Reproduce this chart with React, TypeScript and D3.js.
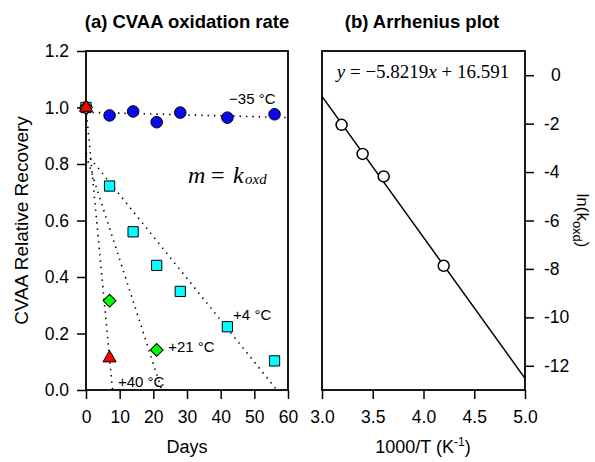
import React, { useEffect, useRef } from 'react'
import * as d3 from 'd3'

// (a) CVAA oxidation rate, relative recovery vs days
const days = [0, 7, 14, 21, 28, 42, 56]
const recoveryM35 = [1.0, 0.972, 0.986, 0.948, 0.982, 0.964, 0.976]
const recoveryP4 = [1.0, 0.722, 0.56, 0.441, 0.349, 0.224, 0.103]
const daysP21 = [0, 7, 21]
const recoveryP21 = [1.0, 0.316, 0.142]
const daysP40 = [0, 7]
const recoveryP40 = [1.0, 0.113]

// linear fits drawn as dotted lines (-35, +4, +21, +40 °C)
const fitIntercepts = [0.983, 0.839, 0.831, 1.0]
const fitSlopes = [-0.00031, -0.0148, -0.0369, -0.1268]
const tempLabels = ['\u221235 \u00b0C', '+4 \u00b0C', '+21 \u00b0C', '+40 \u00b0C']

// (b) Arrhenius plot
const invTemp = [3.193, 3.4, 3.608, 4.199]
const lnK = [-2.05, -3.25, -4.18, -7.87]
const arrSlope = -5.8219
const arrIntercept = 16.591

const dayTicks = [0, 10, 20, 30, 40, 50, 60]
const recTicks = [0, 0.2, 0.4, 0.6, 0.8, 1.0, 1.2]
const invTTicks = [3.0, 3.5, 4.0, 4.5, 5.0]
const lnKTicks = [0, -2, -4, -6, -8, -10, -12]

const SANS = '"Liberation Sans", Arial, Helvetica, sans-serif'
const SERIF = '"Liberation Serif", "Times New Roman", serif'

function styleAxis(g: any) {
    g.select('.domain').remove()
    g.selectAll('.tick line').attr('stroke', '#000').attr('stroke-width', 1.5)
    g.selectAll('.tick text')
        .attr('fill', '#000')
        .style('font-family', SANS)
        .style('font-size', '17.5px')
}

function App() {
    const ref = useRef<SVGSVGElement>(null)

    useEffect(() => {
        const svg = d3.select(ref.current)
        svg.selectAll('*').remove()

        const top = 51
        const bottom = 390

        // ---- panel (a)
        const x = d3.scaleLinear().domain([0, 60]).range([86, 288])
        const y = d3.scaleLinear().domain([0, 1.2]).range([bottom, top])

        svg.append('g')
            .attr('transform', `translate(0, ${bottom})`)
            .call(d3.axisBottom(x).tickValues(dayTicks).tickSize(9).tickPadding(12).tickSizeOuter(0).tickFormat(d3.format('d')))
            .call(styleAxis)
        svg.append('g')
            .attr('transform', `translate(${x(0)}, 0)`)
            .call(d3.axisLeft(y).tickValues(recTicks).tickSize(9).tickPadding(8).tickSizeOuter(0).tickFormat(d3.format('.1f')))
            .call(styleAxis)

        svg.append('rect')
            .attr('x', x(0)).attr('y', top)
            .attr('width', x(60) - x(0)).attr('height', bottom - top)
            .attr('fill', 'none').attr('stroke', '#000').attr('stroke-width', 1.8)

        // fit lines, clipped at y = 0 or x = 60
        const line = d3.line<[number, number]>().x(d => x(d[0])).y(d => y(d[1]))
        fitIntercepts.forEach((b, i) => {
            const m = fitSlopes[i]
            const xEnd = Math.min(60, -b / m)
            svg.append('path')
                .attr('d', line([[0, b], [xEnd, b + m * xEnd]]))
                .attr('fill', 'none')
                .attr('stroke', '#000')
                .attr('stroke-width', 1.6)
                .attr('stroke-dasharray', '1.4,5')
        })

        const drawSeries = (xs: number[], ys: number[], sym: any, size: number, fill: string, rot = 0) => {
            svg.append('g')
                .selectAll('path')
                .data(xs)
                .enter()
                .append('path')
                .attr('d', d3.symbol().type(sym).size(size)())
                .attr('transform', (d, i) => `translate(${x(d)}, ${y(ys[i])}) rotate(${rot})`)
                .attr('fill', fill)
                .attr('stroke', '#000')
                .attr('stroke-width', 1)
        }
        drawSeries(days, recoveryM35, d3.symbolCircle, 105, '#0a0aee')
        drawSeries(days, recoveryP4, d3.symbolSquare, 105, '#00ffff')
        drawSeries(daysP21, recoveryP21, d3.symbolSquare, 82, '#00ff00', 45)
        drawSeries(daysP40, recoveryP40, d3.symbolTriangle, 75, '#ff0000')

        const labelPos: [number, number][] = [[42.5, 1.014], [43.7, 0.248], [24.4, 0.135], [9.5, 0.012]]
        tempLabels.forEach((t, i) => {
            svg.append('text')
                .attr('x', x(labelPos[i][0]))
                .attr('y', y(labelPos[i][1]))
                .style('font-family', SANS)
                .style('font-size', '15px')
                .text(t)
        })

        // m = k_oxd
        const mx = x(30.3)
        const my = y(0.732)
        const mk = svg.append('text')
            .attr('y', my)
            .style('font-family', SERIF)
            .style('font-style', 'italic')
            .style('font-size', '24px')
        mk.append('tspan').attr('x', mx).text('m')
        mk.append('tspan').attr('x', mx + 23).style('font-style', 'normal').text('=')
        mk.append('tspan').attr('x', mx + 45).text('k')
        mk.append('tspan').attr('x', mx + 57).attr('dy', 1).style('font-size', '15px').text('oxd')

        svg.append('text')
            .attr('x', 187).attr('y', 28)
            .attr('text-anchor', 'middle')
            .style('font-family', SANS).style('font-weight', 'bold').style('font-size', '18.5px')
            .text('(a) CVAA oxidation rate')
        svg.append('text')
            .attr('x', 187).attr('y', 453)
            .attr('text-anchor', 'middle')
            .style('font-family', SANS).style('font-size', '18px')
            .text('Days')
        svg.append('text')
            .attr('transform', `translate(28, ${(top + bottom) / 2}) rotate(-90)`)
            .attr('text-anchor', 'middle')
            .style('font-family', SANS).style('font-size', '19px')
            .text('CVAA Relative Recovery')

        // ---- panel (b)
        const xr = d3.scaleLinear().domain([3, 5]).range([322, 525])
        const yr = d3.scaleLinear().domain([-13, 1]).range([bottom, top])

        svg.append('g')
            .attr('transform', `translate(0, ${bottom})`)
            .call(d3.axisBottom(xr).tickValues(invTTicks).tickSize(9).tickPadding(12).tickSizeOuter(0).tickFormat(d3.format('.1f')))
            .call(styleAxis)
        const ra = svg.append('g')
            .attr('transform', `translate(${xr(5)}, 0)`)
            .call(d3.axisRight(yr).tickValues(lnKTicks).tickSize(9).tickPadding(10).tickSizeOuter(0).tickFormat(d => String(d)))
            .call(styleAxis)
        ra.selectAll('.tick text').filter((d: any) => d >= 0).attr('dx', '0.4em')

        svg.append('rect')
            .attr('x', xr(3)).attr('y', top)
            .attr('width', xr(5) - xr(3)).attr('height', bottom - top)
            .attr('fill', 'none').attr('stroke', '#000').attr('stroke-width', 1.8)

        const lineR = d3.line<number>().x(d => xr(d)).y(d => yr(arrSlope * d + arrIntercept))
        svg.append('path')
            .attr('d', lineR(xr.domain()))
            .attr('fill', 'none').attr('stroke', '#000').attr('stroke-width', 1.5)

        svg.append('g')
            .selectAll('circle')
            .data(invTemp)
            .enter()
            .append('circle')
            .attr('cx', d => xr(d))
            .attr('cy', (d, i) => yr(lnK[i]))
            .attr('r', 5.5)
            .attr('fill', '#fff')
            .attr('stroke', '#000')
            .attr('stroke-width', 1.5)

        const eq = svg.append('text')
            .attr('x', 423).attr('y', 78)
            .attr('text-anchor', 'middle')
            .style('font-family', SERIF).style('font-size', '19px')
        eq.append('tspan').style('font-style', 'italic').text('y')
        eq.append('tspan').text(' = \u22125.8219')
        eq.append('tspan').style('font-style', 'italic').text('x')
        eq.append('tspan').text(' + 16.591')

        svg.append('text')
            .attr('x', 422).attr('y', 28)
            .attr('text-anchor', 'middle')
            .style('font-family', SANS).style('font-weight', 'bold').style('font-size', '18.5px')
            .text('(b) Arrhenius plot')

        const xl = svg.append('text')
            .attr('x', 423).attr('y', 453)
            .attr('text-anchor', 'middle')
            .style('font-family', SANS).style('font-size', '18px')
        xl.append('tspan').text('1000/T (K')
        xl.append('tspan').attr('dy', -7).style('font-size', '12px').text('-1')
        xl.append('tspan').attr('dy', 7).text(')')

        const yl = svg.append('text')
            .attr('transform', `translate(577, ${(top + bottom) / 2}) rotate(90)`)
            .attr('text-anchor', 'middle')
            .style('font-family', SANS).style('font-size', '17px')
        yl.append('tspan').text('ln(k')
        yl.append('tspan').attr('dy', 4).style('font-size', '13px').text('oxd')
        yl.append('tspan').attr('dy', -4).text(')')
    }, [])

    return (
        <svg
            ref={ref}
            width={595}
            height={462}
            style={{ position: 'absolute', left: 0, top: 0, background: '#fff' }}
        />
    )
}

export default App
